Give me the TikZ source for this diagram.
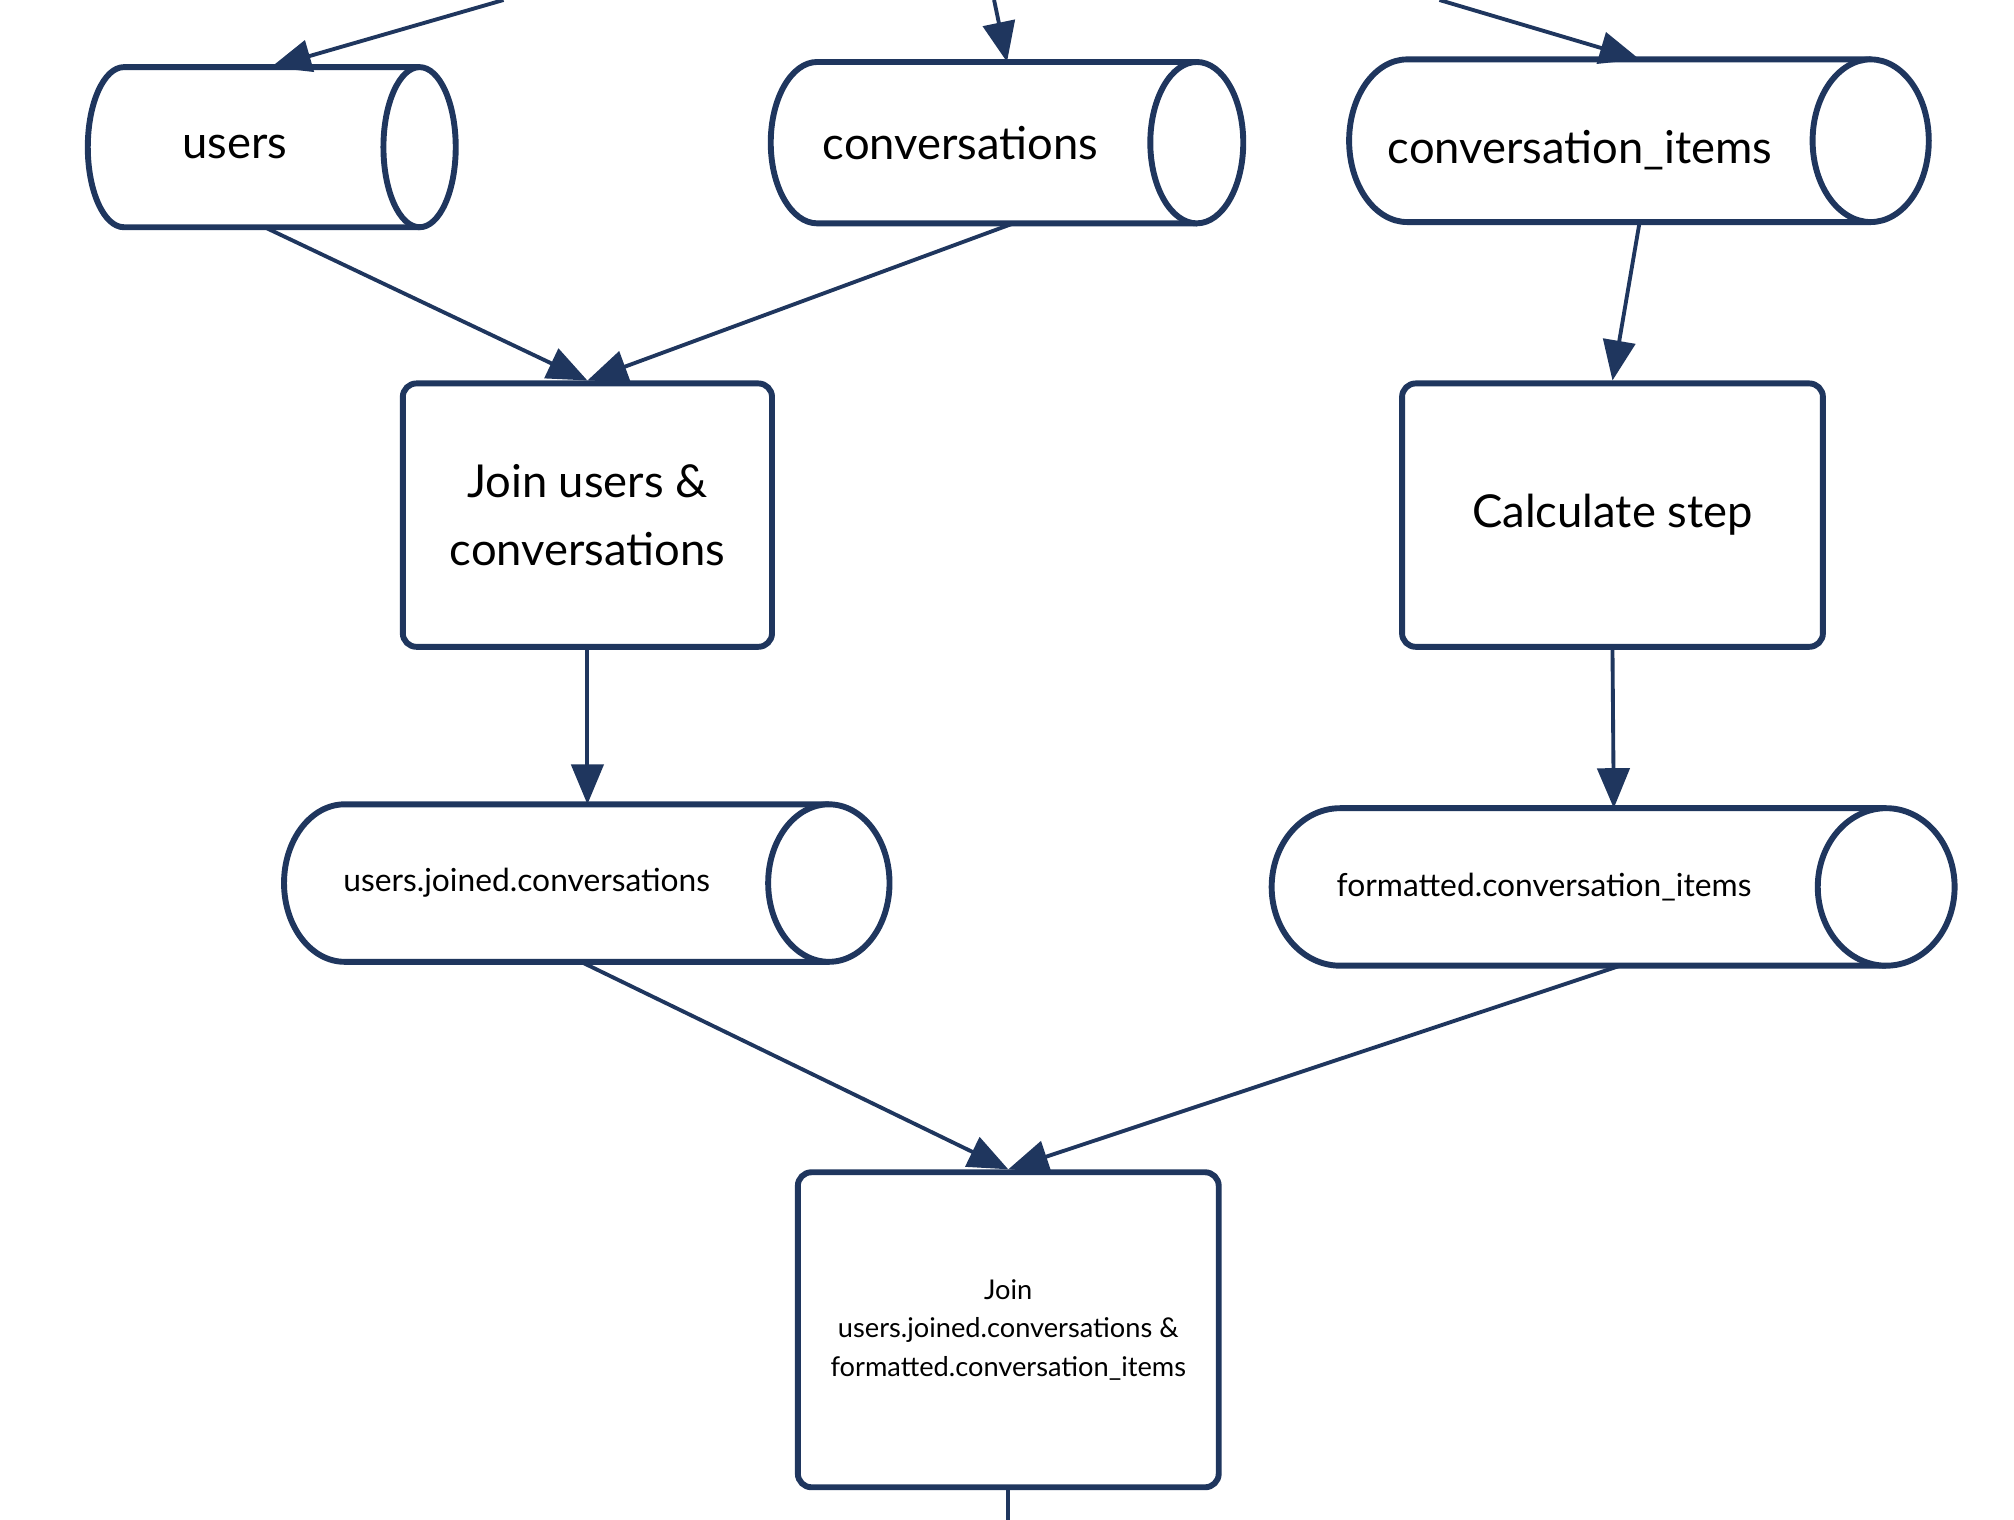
\documentclass[tikz,border=0pt]{standalone}
\usepackage{fontspec}
\setmainfont{Lato}
\usetikzlibrary{arrows.meta}
\definecolor{navy}{RGB}{31,54,94}
\newcommand\mycyl[7]{% name,left,center,rx,top,bottom,text
  \pgfmathsetmacro\ry{(#6-#5)/2}\pgfmathsetmacro\cy{(#5+#6)/2}
  \pgfmathsetmacro\lc{#2+#4}
  \draw[shape line] (#3,#5) -- (\lc,#5) arc[start angle=90,end angle=270,x radius=#4*0.02cm,y radius=\ry*0.02cm] -- (#3,#6);
  \draw[shape line] (#3,\cy) ellipse[x radius=#4*0.02cm,y radius=\ry*0.02cm];
}
\begin{document}
\begin{tikzpicture}[x=0.02cm,y=-0.02cm,
  shape line/.style={draw=navy,line width=2.6pt,fill=white},
  box/.style={draw=navy,line width=2.6pt,rounded corners=6pt,align=center},
  edge/.style={draw=navy,line width=1.7pt,-{Triangle[length=0.62cm,width=0.5cm]}},
  plain/.style={draw=navy,line width=1.7pt}]
\useasboundingbox (0,0) rectangle (1560,1177);
\mycyl{u}{68}{325}{28}{52}{176}{}
\mycyl{c}{597}{927}{36}{48}{173}{}
\mycyl{ci}{1045}{1449}{45}{46}{172}{}
\mycyl{uj}{220}{642}{47}{623}{745}{}
\mycyl{f}{985}{1461}{53}{626}{748}{}
\node[font=\fontsize{20}{24}\selectfont] (ut) at (182,114) {users};
\node[font=\fontsize{20}{24}\selectfont] (ct) at (744,111) {conversations};
\node[font=\fontsize{20}{24}\selectfont] (cit) at (1224,116) {conversation\_items};
\node[font=\fontsize{14}{17}\selectfont] (ujt) at (408,684) {users.joined.conversations};
\node[font=\fontsize{14}{17}\selectfont] (ft) at (1196,687) {formatted.conversation\_items};
\node[box,minimum width=286*0.02cm,minimum height=204*0.02cm,font=\fontsize{20}{30}\selectfont] (j1) at (455,399) {Join users \&\\conversations};
\node[box,minimum width=326*0.02cm,minimum height=204*0.02cm,font=\fontsize{20}{24}\selectfont] (cs) at (1249,399) {Calculate step};
\node[box,minimum width=326*0.02cm,minimum height=244*0.02cm,font=\fontsize{12}{17}\selectfont] (j2) at (781,1030) {Join\\users.joined.conversations \&\\formatted.conversation\_items};
\coordinate (in1) at (390,0); \coordinate (in2) at (770,0); \coordinate (in3) at (1115,0);
\coordinate (ut1) at (210,52); \coordinate (ct1) at (780,48); \coordinate (cit1) at (1270,46);
\coordinate (ub) at (205,176); \coordinate (cb) at (785,173); \coordinate (cib) at (1270,172);
\coordinate (ujt1) at (455,623); \coordinate (ft1) at (1250,626);
\coordinate (ujb) at (450,745); \coordinate (fb) at (1255,748);
\coordinate (out) at (781,1177);
\draw[edge] (in1) -- (ut1);
\draw[edge] (in2) -- (ct1);
\draw[edge] (in3) -- (cit1);
\draw[edge] (ub) -- (j1.north);
\draw[edge] (cb) -- (j1.north);
\draw[edge] (cib) -- (cs.north);
\draw[edge] (j1.south) -- (ujt1);
\draw[edge] (cs.south) -- (ft1);
\draw[edge] (ujb) -- (j2.north);
\draw[edge] (fb) -- (j2.north);
\draw[plain] (j2.south) -- (out);
\end{tikzpicture}
\end{document}
